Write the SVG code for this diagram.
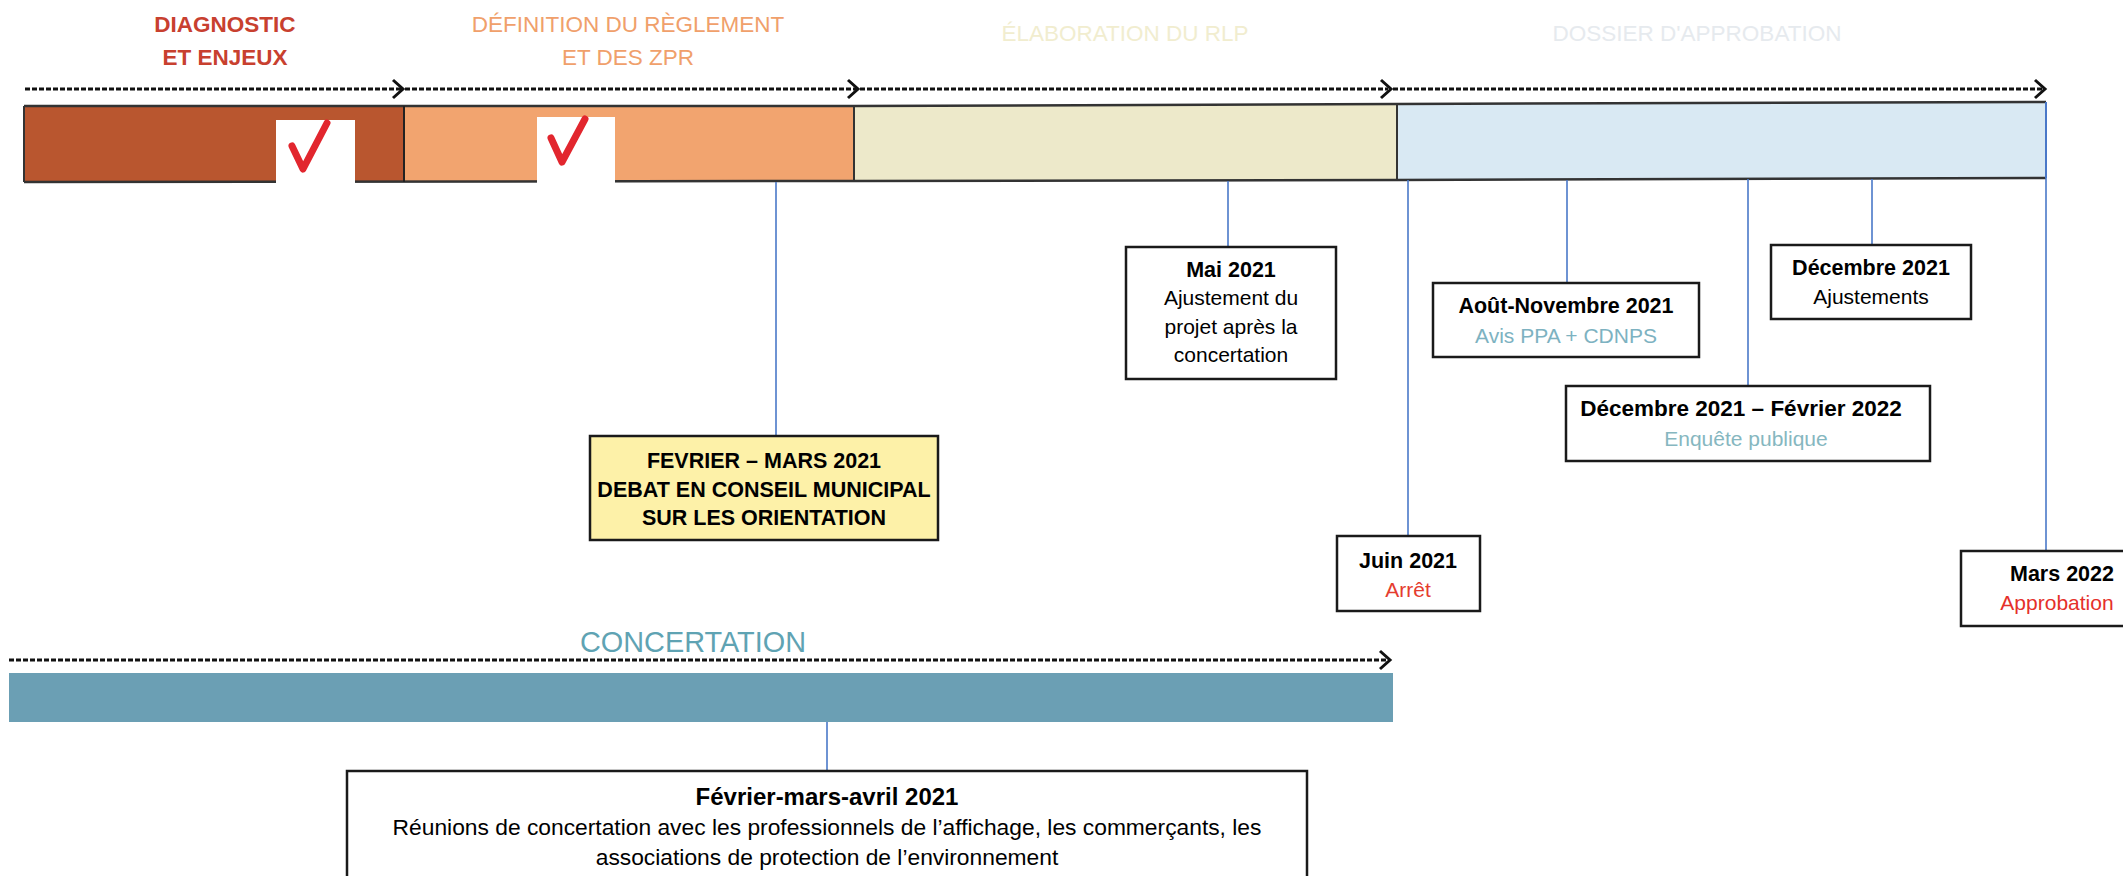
<svg xmlns="http://www.w3.org/2000/svg" width="2123" height="876" viewBox="0 0 2123 876">
  <style>
    text { font-family: "Liberation Sans", Arial, sans-serif; }
    .phase { font-size: 22.5px; text-anchor: middle; }
    .t { font-size: 21.5px; font-weight: bold; fill: #000; text-anchor: middle; }
    .b { font-size: 21px; fill: #000; text-anchor: middle; }
    .red { fill: #e53d2f; }
    .teal { fill: #7db2c1; }
    .box { fill: #fff; stroke: #1a1a1a; stroke-width: 2.5; }
    .link { stroke: #4a78c8; stroke-width: 1.6; fill: none; }
    .dash { stroke: #111; stroke-width: 3.2; stroke-dasharray: 5 2; fill: none; }
    .chev { stroke: #111; stroke-width: 3; fill: none; stroke-linejoin: miter; }
    .check { stroke: #e2262e; stroke-width: 7; fill: none; stroke-linecap: round; stroke-linejoin: round; }
  </style>

  <rect width="2123" height="876" fill="#ffffff"/>

  <!-- Phase titles -->
  <g id="phase-titles">
    <text class="phase" x="225" y="32" fill="#c8402f" font-weight="bold">DIAGNOSTIC</text>
    <text class="phase" x="225" y="65" fill="#c8402f" font-weight="bold">ET ENJEUX</text>
    <text class="phase" x="628" y="32" fill="#f0a06b">DÉFINITION DU RÈGLEMENT</text>
    <text class="phase" x="628" y="65" fill="#f0a06b">ET DES ZPR</text>
    <text class="phase" x="1125" y="41" fill="#f1edcf">ÉLABORATION DU RLP</text>
    <text class="phase" x="1697" y="41" fill="#e6eaee">DOSSIER D'APPROBATION</text>
  </g>

  <!-- Top timeline bar -->
  <g id="timeline-bar">
    <rect x="24" y="106" width="380" height="76" fill="#b9562f"/>
    <rect x="404" y="106" width="450" height="76" fill="#f2a46f"/>
    <rect x="854" y="105" width="543" height="76" fill="#ede9ca"/>
    <rect x="1397" y="103" width="649" height="76" fill="#d9e9f3"/>
    <path d="M24 106 L854 106 L1397 104 L2046 102" stroke="#333" stroke-width="2.5" fill="none"/>
    <path d="M24 182 L854 181 L1397 180 L2046 178" stroke="#333" stroke-width="2.5" fill="none"/>
    <line x1="24" y1="106" x2="24" y2="182" stroke="#333" stroke-width="2"/>
    <line x1="404" y1="106" x2="404" y2="182" stroke="#222" stroke-width="2"/>
    <line x1="854" y1="105" x2="854" y2="181" stroke="#333" stroke-width="2"/>
    <line x1="1397" y1="104" x2="1397" y2="180" stroke="#333" stroke-width="2"/>
    <line x1="2046" y1="102" x2="2046" y2="178" stroke="#4a78c8" stroke-width="2"/>
    <!-- check boxes -->
    <rect x="276" y="120" width="79" height="65" fill="#fff"/>
    <path class="check" d="M292 146 L303 169 L327 123"/>
    <rect x="537" y="117" width="78" height="68" fill="#fff"/>
    <path class="check" d="M551 138 L562 162 L585 119"/>
  </g>

  <!-- Concertation -->
  <g id="concertation">
    <text x="693" y="652" font-size="29" fill="#5fa3b3" text-anchor="middle" textLength="226" lengthAdjust="spacingAndGlyphs">CONCERTATION</text>
    <rect x="9" y="673" width="1384" height="49" fill="#6b9fb4"/>
  </g>

  <!-- Connectors -->
  <g id="connectors">
    <line class="dash" x1="25" y1="89" x2="401" y2="89"/>
    <path class="chev" d="M393 80 L403 89 L393 98"/>
    <line class="dash" x1="405" y1="89" x2="856" y2="89"/>
    <path class="chev" d="M848 80 L858 89 L848 98"/>
    <line class="dash" x1="860" y1="89" x2="1388" y2="89"/>
    <path class="chev" d="M1381 80 L1391 89 L1381 98"/>
    <line class="dash" x1="1393" y1="89" x2="2042" y2="89"/>
    <path class="chev" d="M2035 80 L2045 89 L2035 98"/>

    <line class="dash" x1="9" y1="660" x2="1387" y2="660"/>
    <path class="chev" d="M1380 651 L1390 660 L1380 669"/>

    <line class="link" x1="776" y1="182" x2="776" y2="436"/>
    <line class="link" x1="1228" y1="181" x2="1228" y2="247"/>
    <line class="link" x1="1408" y1="180" x2="1408" y2="536"/>
    <line class="link" x1="1567" y1="180" x2="1567" y2="283"/>
    <line class="link" x1="1748" y1="179" x2="1748" y2="386"/>
    <line class="link" x1="1872" y1="179" x2="1872" y2="245"/>
    <line class="link" x1="2046" y1="178" x2="2046" y2="551"/>
    <line class="link" x1="827" y1="722" x2="827" y2="771"/>
  </g>

  <!-- Nodes -->
  <g id="fevrier-mars">
    <rect x="590" y="436" width="348" height="104" fill="#fdf1a8" stroke="#1a1a1a" stroke-width="2.5"/>
    <text class="t" x="764" y="468">FEVRIER – MARS 2021</text>
    <text class="t" x="764" y="497">DEBAT EN CONSEIL MUNICIPAL</text>
    <text class="t" x="764" y="525">SUR LES ORIENTATION</text>
  </g>

  <g id="mai-2021">
    <rect class="box" x="1126" y="247" width="210" height="132"/>
    <text class="t" x="1231" y="277">Mai 2021</text>
    <text class="b" x="1231" y="305">Ajustement du</text>
    <text class="b" x="1231" y="334">projet après la</text>
    <text class="b" x="1231" y="362">concertation</text>
  </g>

  <g id="juin-2021">
    <rect class="box" x="1337" y="536" width="143" height="75"/>
    <text class="t" x="1408" y="568">Juin 2021</text>
    <text class="b red" x="1408" y="597">Arrêt</text>
  </g>

  <g id="aout-novembre-2021">
    <rect class="box" x="1433" y="283" width="266" height="74"/>
    <text class="t" x="1566" y="313">Août-Novembre 2021</text>
    <text class="b teal" x="1566" y="343">Avis PPA + CDNPS</text>
  </g>

  <g id="decembre-2021">
    <rect class="box" x="1771" y="245" width="200" height="74"/>
    <text class="t" x="1871" y="275">Décembre 2021</text>
    <text class="b" x="1871" y="304">Ajustements</text>
  </g>

  <g id="decembre-fevrier">
    <rect class="box" x="1566" y="386" width="364" height="75"/>
    <text class="t" x="1741" y="416" style="font-size:22.5px">Décembre 2021 – Février 2022</text>
    <text class="b teal" x="1746" y="446" style="fill:#86b7c0">Enquête publique</text>
  </g>

  <g id="mars-2022">
    <rect class="box" x="1961" y="551" width="180" height="75"/>
    <text class="t" x="2062" y="581">Mars 2022</text>
    <text class="b red" x="2057" y="610" style="fill:#e5302a">Approbation</text>
  </g>

  <g id="fevrier-mars-avril">
    <rect class="box" x="347" y="771" width="960" height="120"/>
    <text class="t" x="827" y="805" style="font-size:24px">Février-mars-avril 2021</text>
    <text class="b" x="827" y="835" style="font-size:22.8px">Réunions de concertation avec les professionnels de l’affichage, les commerçants, les</text>
    <text class="b" x="827" y="865" style="font-size:22.8px">associations de protection de l’environnement</text>
  </g>
</svg>
